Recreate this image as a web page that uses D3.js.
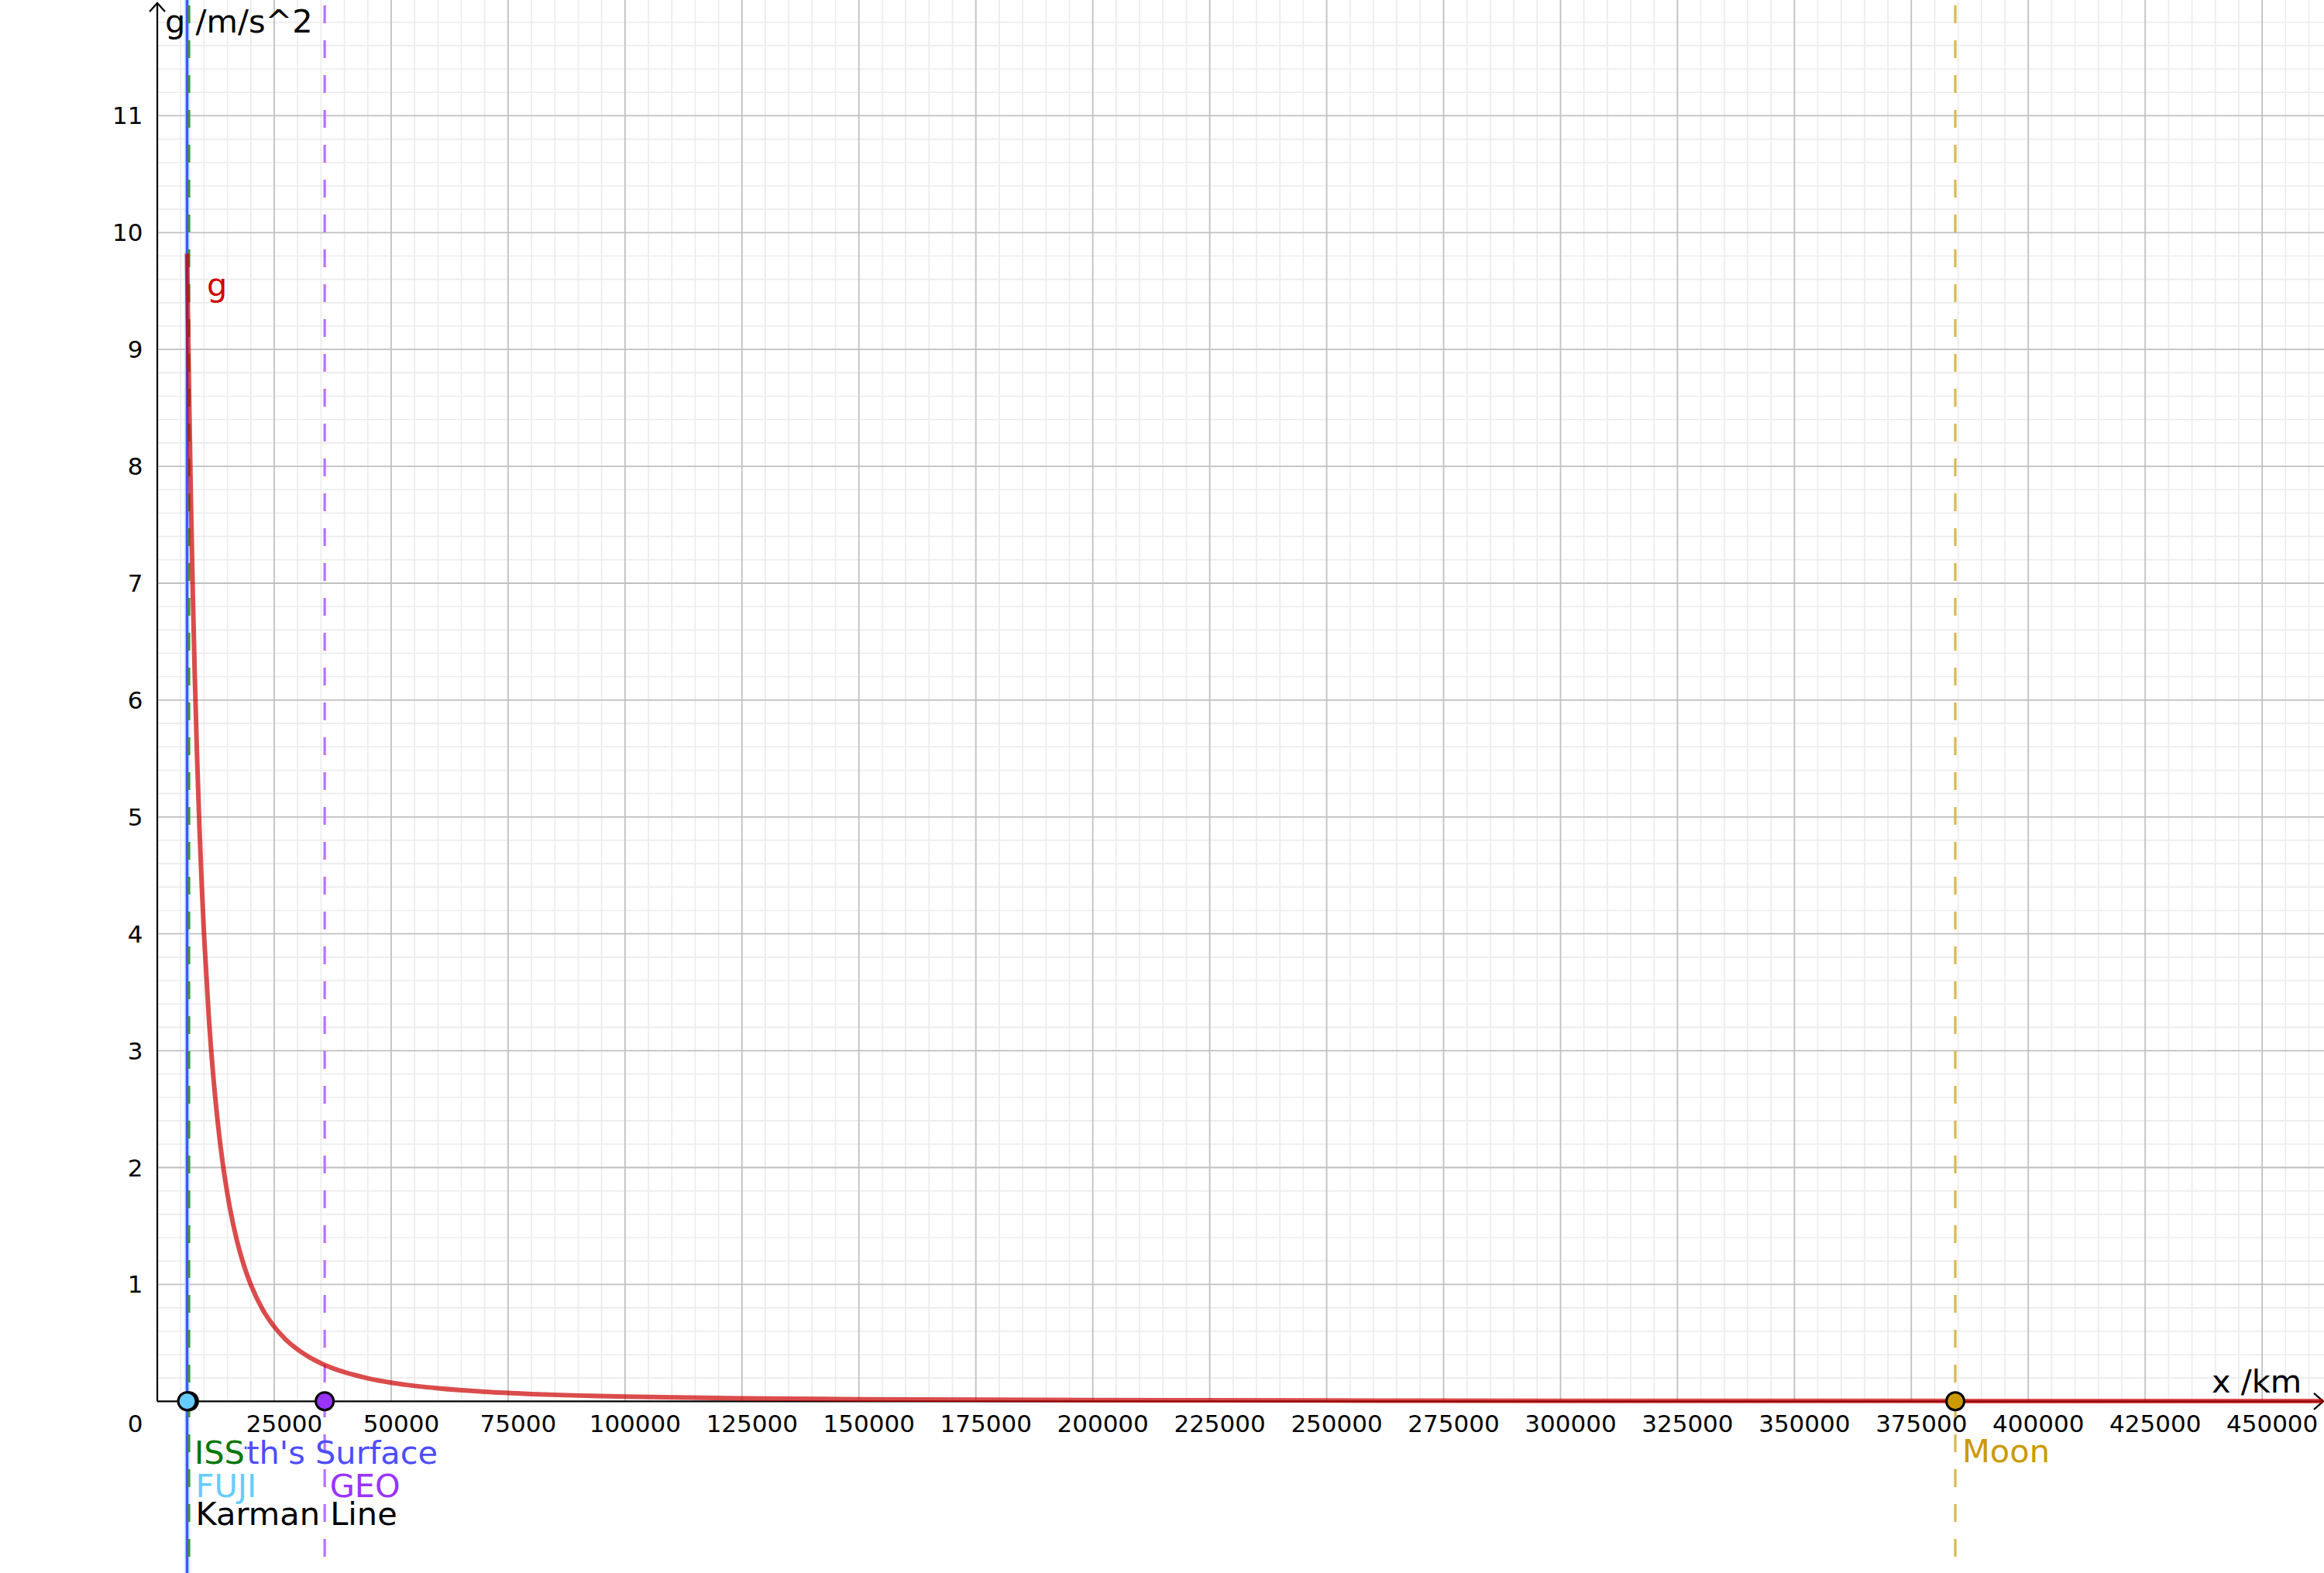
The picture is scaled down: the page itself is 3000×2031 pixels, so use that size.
<!DOCTYPE html>
<html>
<head>
<meta charset="utf-8">
<script src="https://cdn.jsdelivr.net/npm/d3@7"></script>
<style>
  html, body { margin: 0; padding: 0; background: #ffffff; }
  svg { display: block; }
  text { font-family: "DejaVu Sans", sans-serif; }
</style>
</head>
<body>
<svg id="chart" width="3000" height="2031"></svg>
<script>
// ---------------- data ----------------
// distance from the Earth's centre (km) and gravitational acceleration g (m/s^2)
const curveDist = [6371, 6450, 6550, 6700, 6900, 7200, 7600, 8000, 8500, 9000, 9500, 10000,
  11000, 12000, 13000, 14000, 15500, 17000, 18500, 20000, 22500, 25000, 27500, 30000,
  32500, 35000, 37500, 40000, 45000, 50000, 55000, 60000, 70000, 80000, 90000, 100000,
  125000, 150000, 200000, 250000, 300000, 350000, 400000, 463000];
const curveG = [9.820, 9.581, 9.291, 8.879, 8.372, 7.689, 6.901, 6.228, 5.517, 4.921, 4.417, 3.986,
  3.294, 2.768, 2.359, 2.034, 1.659, 1.379, 1.165, 0.997, 0.787, 0.638, 0.527, 0.443,
  0.377, 0.325, 0.283, 0.249, 0.197, 0.159, 0.132, 0.111, 0.0813, 0.0623, 0.0492, 0.0399,
  0.0255, 0.0177, 0.0100, 0.0064, 0.0044, 0.0033, 0.0025, 0.0019];

const markerNames = ["Earth's Surface", "FUJI", "Karman Line", "ISS", "GEO", "Moon"];
const markerDist  = [6371, 6374.776, 6471, 6779, 35786, 384400];

const xTickValues = [25000, 50000, 75000, 100000, 125000, 150000, 175000, 200000, 225000,
  250000, 275000, 300000, 325000, 350000, 375000, 400000, 425000, 450000];
const yTickValues = [1, 2, 3, 4, 5, 6, 7, 8, 9, 10, 11];

const xAxisTitle = "x /km";
const yAxisTitle = "g /m/s^2";
const curveName = "g";

// ---------------- styles / layout (kept separate from data) ----------------
const W = 3000, H = 2031;
const FONT_TICK = 31, FONT_LABEL = 41.5;

const markerStyle = {
  "Earth's Surface": { line: "#4d4dff", width: 3, dash: null, text: "#4d4dff", dx: 8, by: 1890, point: null },
  "FUJI":            { line: "#8fd8ff", width: 6, dash: null, text: "#66ccff", dx: 11, by: 1932.7, point: "#66ccff" },
  "Karman Line":     { line: null, width: 0, dash: null, text: "#000000", dx: 10.5, by: 1969.3, point: null },
  "ISS":             { line: "#3f8f3f", width: 3.2, dash: "23 22", text: "#007700", dx: 7, by: 1890, point: "#111111" },
  "GEO":             { line: "#b870ff", width: 3.2, dash: "23 22", text: "#9933ff", dx: 6.5, by: 1932.7, point: "#9933ff" },
  "Moon":            { line: "#dbb84c", width: 3.2, dash: "23 22", text: "#cc9900", dx: 9, by: 1887.7, point: "#cc9900" }
};
const lineOrder = ["FUJI", "Earth's Surface", "ISS", "GEO", "Moon"];
const pointOrder = ["ISS", "FUJI", "GEO", "Moon"];

// ---------------- scales ----------------
const x = d3.scaleLinear().domain([0, 450000]).range([203.05, 203.05 + 18 * 150.95]);
const y = d3.scaleLinear().domain([0, 11]).range([1809.3, 1809.3 - 11 * 150.9]);

const x0 = x(0), y0 = y(0);
const xMaxVal = x.invert(W);
const yMaxVal = y.invert(0);

const svg = d3.select("#chart");
svg.append("rect").attr("width", W).attr("height", H).attr("fill", "#ffffff");

// ---------------- grid ----------------
const gGrid = svg.append("g");
const minorX = [], majorX = [];
for (let i = 1; i * 5000 <= xMaxVal; i++) (i % 5 === 0 ? majorX : minorX).push(i * 5000);
const minorY = [], majorY = [];
for (let i = 1; i * 0.2 <= yMaxVal; i++) (i % 5 === 0 ? majorY : minorY).push(i / 5);

gGrid.selectAll("line.mx").data(minorX).join("line")
  .attr("x1", d => x(d)).attr("x2", d => x(d)).attr("y1", 0).attr("y2", y0)
  .attr("stroke", "#ebebeb").attr("stroke-width", 1.6);
gGrid.selectAll("line.my").data(minorY).join("line")
  .attr("x1", x0).attr("x2", W).attr("y1", d => y(d)).attr("y2", d => y(d))
  .attr("stroke", "#ebebeb").attr("stroke-width", 1.6);
gGrid.selectAll("line.Mx").data(majorX).join("line")
  .attr("x1", d => x(d)).attr("x2", d => x(d)).attr("y1", 0).attr("y2", y0)
  .attr("stroke", "#c0c0c0").attr("stroke-width", 1.8);
gGrid.selectAll("line.My").data(majorY).join("line")
  .attr("x1", x0).attr("x2", W).attr("y1", d => y(d)).attr("y2", d => y(d))
  .attr("stroke", "#c0c0c0").attr("stroke-width", 1.8);

// ---------------- axes ----------------
const gAxis = svg.append("g").attr("stroke", "#000").attr("stroke-width", 2.2).attr("fill", "none");
gAxis.append("line").attr("x1", x0).attr("x2", W - 1).attr("y1", y0).attr("y2", y0);
gAxis.append("line").attr("x1", x0).attr("x2", x0).attr("y1", y0).attr("y2", 4);
gAxis.append("path").attr("d", `M${x0 - 10},15 L${x0},4 L${x0 + 10},15`);
gAxis.append("path").attr("d", `M${W - 13},${y0 - 10.5} L${W - 1},${y0} L${W - 13},${y0 + 10.5}`);

// tick labels
const gTicks = svg.append("g").attr("font-size", FONT_TICK).attr("fill", "#000");
gTicks.selectAll("text.xt").data(xTickValues).join("text")
  .attr("x", d => x(d) + 13).attr("y", y0 + 40).attr("text-anchor", "middle")
  .text(d => d3.format("d")(d));
gTicks.selectAll("text.yt").data(yTickValues).join("text")
  .attr("x", 184.5).attr("y", d => y(d) + 11).attr("text-anchor", "end")
  .text(d => d);
gTicks.append("text").attr("x", 184.5).attr("y", y0 + 40).attr("text-anchor", "end").text("0");

// axis titles
svg.append("text").attr("x", 213).attr("y", 42).attr("font-size", FONT_LABEL).text(yAxisTitle);
svg.append("text").attr("x", 2855).attr("y", 1798).attr("font-size", FONT_LABEL).text(xAxisTitle);

// ---------------- vertical marker lines ----------------
const gLines = svg.append("g");
lineOrder.forEach(name => {
  const i = markerNames.indexOf(name);
  const st = markerStyle[name];
  const ln = gLines.append("line")
    .attr("x1", x(markerDist[i])).attr("x2", x(markerDist[i]))
    .attr("y1", 0).attr("y2", H)
    .attr("stroke", st.line).attr("stroke-width", st.width);
  if (st.dash) ln.attr("stroke-dasharray", st.dash).attr("stroke-dashoffset", -7);
});

// ---------------- curve ----------------
const curveData = curveDist.map((d, i) => [d, curveG[i]]);
const lineGen = d3.line().x(d => x(d[0])).y(d => y(d[1])).curve(d3.curveMonotoneX);
svg.append("path").datum(curveData)
  .attr("d", lineGen)
  .attr("fill", "none").attr("stroke", "#cc0000").attr("stroke-opacity", 0.7)
  .attr("stroke-width", 6).attr("stroke-linejoin", "round");

svg.append("text").attr("x", 267).attr("y", 382).attr("font-size", FONT_LABEL)
  .attr("fill", "#cc0000").text(curveName);

// ---------------- points ----------------
const gPts = svg.append("g");
pointOrder.forEach(name => {
  const i = markerNames.indexOf(name);
  gPts.append("circle").attr("cx", x(markerDist[i])).attr("cy", y0).attr("r", 11.5)
    .attr("fill", markerStyle[name].point).attr("stroke", "#000").attr("stroke-width", 3);
});

// ---------------- marker labels ----------------
const gLab = svg.append("g").attr("font-size", FONT_LABEL);
const labelOrder = ["Earth's Surface", "FUJI", "Karman Line", "GEO", "Moon", "ISS"];
labelOrder.forEach(name => {
  const i = markerNames.indexOf(name);
  const st = markerStyle[name];
  const t = gLab.append("text")
    .attr("x", x(markerDist[i]) + st.dx).attr("y", st.by)
    .attr("fill", st.text).text(name);
  if (name === "ISS") {
    const bb = t.node().getBBox();
    gLab.insert("rect", () => t.node())
      .attr("x", bb.x).attr("y", bb.y + 4).attr("width", bb.width).attr("height", bb.height - 10)
      .attr("fill", "#ffffff").attr("fill-opacity", 0.92);
  }
});
</script>
</body>
</html>
